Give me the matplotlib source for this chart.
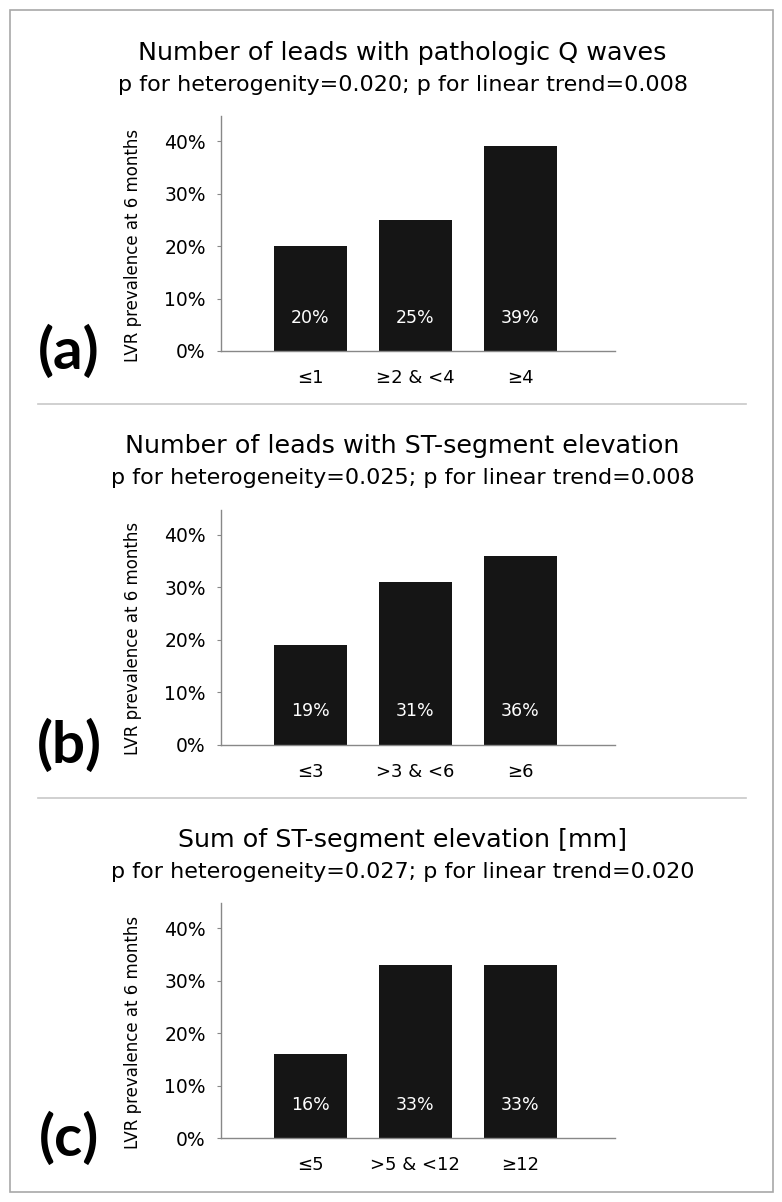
import matplotlib.pyplot as plt
from matplotlib.patches import Rectangle
from matplotlib.lines import Line2D

titles = ["Number of leads with pathologic Q waves",
          "Number of leads with ST-segment elevation",
          "Sum of ST-segment elevation [mm]"]
subtitles = ["p for heterogenity=0.020; p for linear trend=0.008",
             "p for heterogeneity=0.025; p for linear trend=0.008",
             "p for heterogeneity=0.027; p for linear trend=0.020"]
panel_tags = ["(a)", "(b)", "(c)"]
categories = [["≤1", "≥2 & <4", "≥4"],
              ["≤3", ">3 & <6", "≥6"],
              ["≤5", ">5 & <12", "≥12"]]
values = [[20, 25, 39],
          [19, 31, 36],
          [16, 33, 33]]
yticks = [0, 10, 20, 30, 40]
ylabel = "LVR prevalence at 6 months"

W, H = 782, 1202
fig = plt.figure(figsize=(W / 100, H / 100), dpi=100)
fig.patch.set_facecolor("white")

# outer frame
fig.patches.append(Rectangle((10 / W, 10 / H), 763 / W, 1182 / H, transform=fig.transFigure,
                             fill=False, edgecolor="#a8a8a8", linewidth=1.2))

step = 393.5
for i in range(3):
    off = i * step
    y0 = 351 + off      # pixel of 0%
    ytop = 116 + off
    ax = fig.add_axes([221 / W, 1 - y0 / H, (615 - 221) / W, (y0 - ytop) / H])
    x = range(len(values[i]))
    ax.bar(x, values[i], width=0.7, color="#151515")
    ax.set_xlim(-0.85, 2.9)
    ax.set_ylim(0, 44.8)
    for xi, v in zip(x, values[i]):
        ax.text(xi, 6.3, f"{v}%", color="white", ha="center", va="center", fontsize=12.5)
    ax.set_yticks(yticks)
    ax.set_yticklabels([f"{t}%" for t in yticks], fontsize=13.5)
    ax.set_xticks(list(x))
    ax.set_xticklabels(categories[i], fontsize=13)
    ax.tick_params(axis="x", length=0, pad=13)
    ax.tick_params(axis="y", length=3, color="#888888", pad=8)
    for s in ["top", "right"]:
        ax.spines[s].set_visible(False)
    for s in ["left", "bottom"]:
        ax.spines[s].set_color("#888888")
        ax.spines[s].set_linewidth(1)
    ax.set_ylabel(ylabel, fontsize=12, labelpad=12)
    ax.yaxis.set_label_coords(-0.2, 0.45)

    fig.text(402 / W, 1 - (53 + off) / H, titles[i], ha="center", va="center", fontsize=18.3)
    fig.text(403 / W, 1 - (85 + off) / H, subtitles[i], ha="center", va="center", fontsize=16)
    fig.text(69 / W, 1 - (352 + off) / H, panel_tags[i], ha="center", va="center",
             fontsize=42, fontweight="bold", family="Lato")

    if i < 2:
        ys = 1 - (404 + off) / H
        fig.lines.append(Line2D([38 / W, 746 / W], [ys, ys], transform=fig.transFigure,
                                color="#c8c8c8", linewidth=1.2))

fig.savefig("out.png", dpi=100)
